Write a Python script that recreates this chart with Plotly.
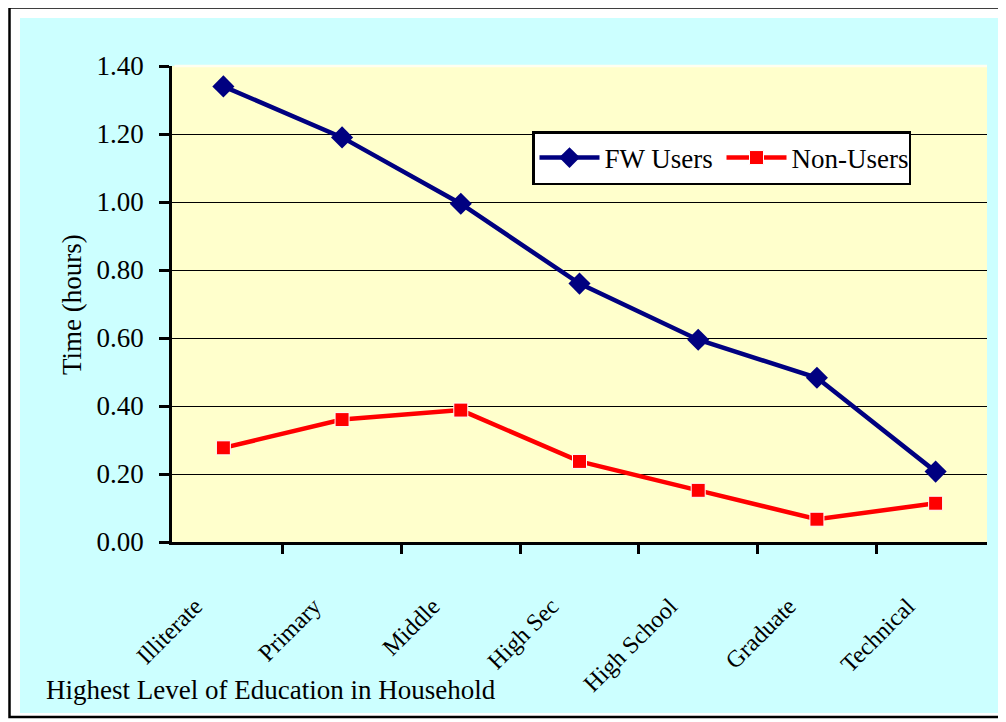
import plotly.graph_objects as go

categories = ['Illiterate', 'Primary', 'Middle', 'High Sec', 'High School', 'Graduate', 'Technical']
fw_users = [1.34, 1.19, 0.995, 0.76, 0.595, 0.483, 0.207]
non_users = [0.277, 0.36, 0.388, 0.237, 0.152, 0.067, 0.114]
y_ticks = [0, 0.2, 0.4, 0.6, 0.8, 1.0, 1.2, 1.4]

FONT = "Liberation Serif, Times New Roman, serif"
# the page body adds an 8px margin, so the figure is drawn 8px smaller and
# every reference pixel position is moved back by 8px
OFF = 8
W, H = 1006 - OFF, 722 - OFF
L, R, T, B = 172 - OFF, 987 - OFF, 66 - OFF, 542 - OFF   # plot area


def px(x):
    return (x - OFF - L) / (R - L)


def py(y):
    return (B - (y - OFF)) / (B - T)


fig = go.Figure()
fig.add_trace(go.Scatter(
    x=categories, y=fw_users, name='FW Users', mode='lines+markers',
    line=dict(color='#000080', width=4.5),
    marker=dict(symbol='diamond', size=17, color='#000080'),
))
fig.add_trace(go.Scatter(
    x=categories, y=non_users, name='Non-Users', mode='lines+markers',
    line=dict(color='#FF0000', width=4.5),
    marker=dict(symbol='square', size=14, color='#FF0000',
                line=dict(color='white', width=1)),
))

shapes = [
    # outer frame
    dict(type='rect', xref='paper', yref='paper', layer='below',
         x0=px(9.5), x1=px(1015), y0=py(717), y1=py(7.5),
         line=dict(color='black', width=2.5), fillcolor='white'),
    # cyan chart area
    dict(type='rect', xref='paper', yref='paper', layer='below',
         x0=px(20), x1=px(1012), y0=py(713), y1=py(18),
         line=dict(width=0), fillcolor='#CCFFFF'),
    # plot area
    dict(type='rect', xref='paper', yref='paper', layer='below',
         x0=0, x1=1, y0=0, y1=1,
         line=dict(width=0), fillcolor='#FFFFCC'),
    # light top edge instead of a gridline at 1.40
    dict(type='line', xref='paper', yref='paper', layer='above',
         x0=0.003, x1=1, y0=1, y1=1,
         line=dict(color='#FFFFF0', width=2.5)),
]

fig.update_layout(
    width=W, height=H,
    margin=dict(l=L, r=W - R, t=T, b=H - B),
    paper_bgcolor='white',
    plot_bgcolor='rgba(0,0,0,0)',
    font=dict(family=FONT, color='black', size=27),
    shapes=shapes,
    showlegend=True,
    legend=dict(
        x=px(532), y=py(131), xanchor='left', yanchor='top',
        orientation='h', bgcolor='white', bordercolor='black', borderwidth=2.5,
        font=dict(family=FONT, size=27, color='black'),
        itemwidth=60, entrywidth=112, entrywidthmode='pixels',
    ),
    annotations=[
        dict(text='Highest Level of Education in Household', xref='paper', yref='paper',
             x=px(44), y=py(690), xanchor='left', yanchor='middle', showarrow=False,
             font=dict(family=FONT, size=27, color='black')),
        dict(text='Time (hours)', xref='paper', yref='paper', textangle=-90,
             x=px(72), y=py(305), xanchor='center', yanchor='middle', showarrow=False,
             font=dict(family=FONT, size=27, color='black')),
    ],
)

fig.update_xaxes(
    type='category', automargin=False, showline=True, linecolor='black', linewidth=2.5,
    ticks='outside', tickson='boundaries', ticklen=9, tickwidth=2.5, tickcolor='black',
    tickangle=-45, tickfont=dict(family=FONT, size=24, color='black'),
    ticklabelstandoff=38, ticklabelshift=-28,
    showgrid=False, zeroline=False, mirror=False,
)
fig.update_yaxes(
    range=[0, 1.4], tickvals=y_ticks, tickformat='.2f', automargin=False,
    showline=True, linecolor='black', linewidth=2.5,
    ticks='outside', ticklen=10, tickwidth=2.5, tickcolor='black',
    tickfont=dict(family=FONT, size=27, color='black'), ticklabelstandoff=10,
    showgrid=True, gridcolor='black', gridwidth=1.3, zeroline=False,
)

fig.write_html("out.html")
